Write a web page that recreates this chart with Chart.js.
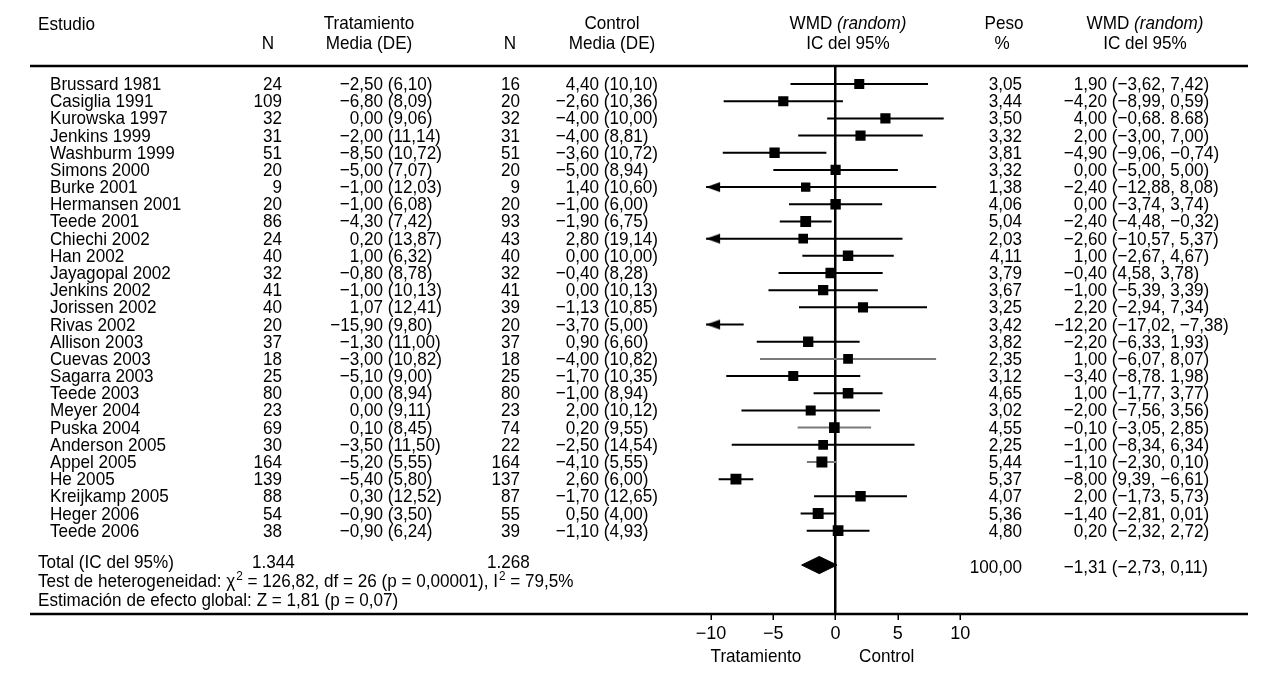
<!DOCTYPE html>
<html>
<head>
<meta charset="utf-8">
<script src="https://cdn.jsdelivr.net/npm/chart.js@4.4.1/dist/chart.umd.min.js"></script>
<style>
  html, body { margin: 0; padding: 0; background: #fff; }
  canvas { display: block; }
</style>
</head>
<body>
<canvas id="forest" width="1284" height="679"></canvas>
<script>
// --- data ---
const studies = ["Brussard 1981","Casiglia 1991","Kurowska 1997","Jenkins 1999","Washburm 1999","Simons 2000","Burke 2001","Hermansen 2001","Teede 2001","Chiechi 2002","Han 2002","Jayagopal 2002","Jenkins 2002","Jorissen 2002","Rivas 2002","Allison 2003","Cuevas 2003","Sagarra 2003","Teede 2003","Meyer 2004","Puska 2004","Anderson 2005","Appel 2005","He 2005","Kreijkamp 2005","Heger 2006","Teede 2006"];
const nTrat = [24,109,32,31,51,20,9,20,86,24,40,32,41,40,20,37,18,25,80,23,69,30,164,139,88,54,38];
const tratMean = [-2.50,-6.80,0.00,-2.00,-8.50,-5.00,-1.00,-1.00,-4.30,0.20,1.00,-0.80,-1.00,1.07,-15.90,-1.30,-3.00,-5.10,0.00,0.00,0.10,-3.50,-5.20,-5.40,0.30,-0.90,-0.90];
const tratSD = [6.10,8.09,9.06,11.14,10.72,7.07,12.03,6.08,7.42,13.87,6.32,8.78,10.13,12.41,9.80,11.00,10.82,9.00,8.94,9.11,8.45,11.50,5.55,5.80,12.52,3.50,6.24];
const nCtrl = [16,20,32,31,51,20,9,20,93,43,40,32,41,39,20,37,18,25,80,23,74,22,164,137,87,55,39];
const ctrlMean = [4.40,-2.60,-4.00,-4.00,-3.60,-5.00,1.40,-1.00,-1.90,2.80,0.00,-0.40,0.00,-1.13,-3.70,0.90,-4.00,-1.70,-1.00,2.00,0.20,-2.50,-4.10,2.60,-1.70,0.50,-1.10];
const ctrlSD = [10.10,10.36,10.00,8.81,10.72,8.94,10.60,6.00,6.75,19.14,10.00,8.28,10.13,10.85,5.00,6.60,10.82,10.35,8.94,10.12,9.55,14.54,5.55,6.00,12.65,4.00,4.93];
const peso = [3.05,3.44,3.50,3.32,3.81,3.32,1.38,4.06,5.04,2.03,4.11,3.79,3.67,3.25,3.42,3.82,2.35,3.12,4.65,3.02,4.55,2.25,5.44,5.37,4.07,5.36,4.80];
const wmd = [1.90,-4.20,4.00,2.00,-4.90,0.00,-2.40,0.00,-2.40,-2.60,1.00,-0.40,-1.00,2.20,-12.20,-2.20,1.00,-3.40,1.00,-2.00,-0.10,-1.00,-1.10,-8.00,2.00,-1.40,0.20];
const ciLo = [-3.62,-8.99,-0.68,-3.00,-9.06,-5.00,-12.88,-3.74,-4.48,-10.57,-2.67,-4.58,-5.39,-2.94,-17.02,-6.33,-6.07,-8.78,-1.77,-7.56,-3.05,-8.34,-2.30,-9.39,-1.73,-2.81,-2.32];
const ciHi = [7.42,0.59,8.68,7.00,-0.74,5.00,8.08,3.74,-0.32,5.37,4.67,3.78,3.39,7.34,-7.38,1.93,8.07,1.98,3.77,3.56,2.85,6.34,0.10,-6.61,5.73,0.01,2.72];
// CI column exactly as printed (typos included)
const ciText = ["(\u22123,62, 7,42)","(\u22128,99, 0,59)","(\u22120,68. 8.68)","(\u22123,00, 7,00)","(\u22129,06, \u22120,74)","(\u22125,00, 5,00)","(\u221212,88, 8,08)","(\u22123,74, 3,74)","(\u22124,48, \u22120,32)","(\u221210,57, 5,37)","(\u22122,67, 4,67)","(4,58, 3,78)","(\u22125,39, 3,39)","(\u22122,94, 7,34)","(\u221217,02, \u22127,38)","(\u22126,33, 1,93)","(\u22126,07, 8,07)","(\u22128,78. 1,98)","(\u22121,77, 3,77)","(\u22127,56, 3,56)","(\u22123,05, 2,85)","(\u22128,34, 6,34)","(\u22122,30, 0,10)","(9,39, \u22126,61)","(\u22121,73, 5,73)","(\u22122,81, 0,01)","(\u22122,32, 2,72)"];
const grayRows = [16, 20, 22];

const totalN = ["1.344", "1.268"];
const totalPeso = 100.00;
const totalWmd = -1.31, totalLo = -2.73, totalHi = 0.11;
const xTicks = [-10, -5, 0, 5, 10];

const FONT = '"Liberation Sans", Arial, sans-serif';
const FS = 19;        // text size
const SX = 0.9;       // squeeze text horizontally, the original type is condensed
const xClip = -10.4;  // left edge where off-scale intervals get an arrow
const totalRow = 28;

function fmt(v) {
  return (v < 0 ? '\u2212' : '') + Math.abs(v).toFixed(2).replace('.', ',');
}

// build datasets from the arrays
function ciLine(rows) {
  const pts = [];
  rows.forEach(i => {
    pts.push({x: Math.max(ciLo[i], xClip), y: i});
    pts.push({x: ciHi[i], y: i});
    pts.push({x: ciHi[i], y: null});
  });
  return pts;
}
const idx = studies.map((s, i) => i);
const blackRows = idx.filter(i => grayRows.indexOf(i) < 0);
const squareRows = idx.filter(i => wmd[i] >= xClip);
const arrowRows = idx.filter(i => ciLo[i] < xClip);

const arrowHead = document.createElement('canvas');
arrowHead.width = 30; arrowHead.height = 12;
(function () {
  const a = arrowHead.getContext('2d');
  a.fillStyle = '#000';
  a.beginPath(); a.moveTo(15, 6); a.lineTo(29, 1); a.lineTo(29, 11); a.closePath(); a.fill();
})();

// table text + rules
const tablePlugin = {
  id: 'tableText',
  afterDraw(chart) {
    const ctx = chart.ctx;
    const ys = chart.scales.y;
    function txt(s, x, y, align, italic, size) {
      ctx.save();
      ctx.font = (italic ? 'italic ' : '') + (size || FS) + 'px ' + FONT;
      ctx.fillStyle = '#000';
      ctx.textAlign = align || 'left';
      ctx.textBaseline = 'alphabetic';
      ctx.translate(x, y); ctx.scale(SX, 1);
      ctx.fillText(s, 0, 0);
      ctx.restore();
    }
    function w(s, italic, size) {
      ctx.save();
      ctx.font = (italic ? 'italic ' : '') + (size || FS) + 'px ' + FONT;
      const m = ctx.measureText(s).width * SX;
      ctx.restore();
      return m;
    }
    function mixed(parts, x, y, center) {
      let total = 0;
      parts.forEach(p => total += w(p[0], p[1]));
      let cx = center ? x - total / 2 : x;
      parts.forEach(p => { txt(p[0], cx, y, 'left', p[1]); cx += w(p[0], p[1]); });
    }

    // rules
    ctx.save();
    ctx.strokeStyle = '#000'; ctx.lineWidth = 2.5;
    ctx.beginPath();
    ctx.moveTo(30, chart.chartArea.top); ctx.lineTo(1248, chart.chartArea.top);
    ctx.moveTo(30, chart.chartArea.bottom); ctx.lineTo(1248, chart.chartArea.bottom);
    ctx.stroke();
    ctx.restore();

    // headers
    txt('Estudio', 38, 30);
    txt('N', 268, 49, 'center');
    txt('Tratamiento', 369, 29, 'center');
    txt('Media (DE)', 369, 49, 'center');
    txt('N', 510, 49, 'center');
    txt('Control', 612, 29, 'center');
    txt('Media (DE)', 612, 49, 'center');
    mixed([['WMD ', false], ['(random)', true]], 848, 29, true);
    txt('IC del 95%', 848, 49, 'center');
    txt('Peso', 1004, 29, 'center');
    txt('%', 1002, 49, 'center');
    mixed([['WMD ', false], ['(random)', true]], 1145, 29, true);
    txt('IC del 95%', 1145, 49, 'center');

    // rows
    studies.forEach((s, i) => {
      const y = ys.getPixelForValue(i) + 6;
      txt(s, 50, y);
      txt(String(nTrat[i]), 282, y, 'right');
      txt(fmt(tratMean[i]), 383, y, 'right');
      txt(' (' + tratSD[i].toFixed(2).replace('.', ',') + ')', 383, y);
      txt(String(nCtrl[i]), 520, y, 'right');
      txt(fmt(ctrlMean[i]), 599, y, 'right');
      txt(' (' + ctrlSD[i].toFixed(2).replace('.', ',') + ')', 599, y);
      txt(peso[i].toFixed(2).replace('.', ','), 1022, y, 'right');
      txt(fmt(wmd[i]), 1107, y, 'right');
      txt(' ' + ciText[i], 1107, y);
    });

    // totals
    const ty = ys.getPixelForValue(totalRow);
    txt('Total (IC del 95%)', 38, ty + 3);
    txt(totalN[0], 252, ty + 3);
    txt(totalN[1], 487, ty + 3);
    txt(totalPeso.toFixed(2).replace('.', ','), 1022, ty + 8, 'right');
    txt(fmt(totalWmd), 1107, ty + 8, 'right');
    txt(' (' + fmt(totalLo) + ', ' + fmt(totalHi) + ')', 1107, ty + 8);

    // heterogeneity line with superscripts
    let x = 38; const hy = ty + 22;
    [['Test de heterogeneidad: \u03c7', 0], ['2', 1], [' = 126,82, df = 26 (p = 0,00001), I', 0], ['2', 1], [' = 79,5%', 0]].forEach(p => {
      if (p[1]) { txt(p[0], x + 1, hy - 7, 'left', false, 13); x += w(p[0], false, 13) + 1; }
      else { txt(p[0], x, hy); x += w(p[0]); }
    });
    txt('Estimaci\u00f3n de efecto global: Z = 1,81 (p = 0,07)', 38, ty + 41);

    // axis captions
    const xs = chart.scales.x;
    txt('Tratamiento', xs.getPixelForValue(-6.4), 662, 'center');
    txt('Control', xs.getPixelForValue(4.1), 662, 'center');
  }
};

new Chart(document.getElementById('forest'), {
  type: 'scatter',
  data: {
    datasets: [
      { // study estimates
        data: squareRows.map(i => ({x: wmd[i], y: i})),
        pointStyle: 'rect',
        pointRadius: squareRows.map(i => (8.8 + 0.4 * peso[i]) / Math.SQRT2),
        backgroundColor: '#000', pointBorderWidth: 0, showLine: false
      },
      { // off-scale arrows
        data: arrowRows.map(i => ({x: xClip, y: i})),
        pointStyle: arrowHead, pointRadius: 7, showLine: false
      },
      { // confidence intervals (black)
        type: 'line', data: ciLine(blackRows),
        borderColor: '#000', borderWidth: 2, pointRadius: 0, spanGaps: false, fill: false
      },
      { // confidence intervals (gray)
        type: 'line', data: ciLine(grayRows),
        borderColor: '#7a7a7a', borderWidth: 2, pointRadius: 0, spanGaps: false, fill: false
      },
      { // pooled diamond, upper half
        type: 'line',
        data: [{x: totalLo, y: totalRow}, {x: totalWmd, y: totalRow - 0.5}, {x: totalHi, y: totalRow}],
        borderColor: '#000', borderWidth: 1, pointRadius: 0, fill: false
      },
      { // pooled diamond, lower half
        type: 'line',
        data: [{x: totalLo, y: totalRow}, {x: totalWmd, y: totalRow + 0.5}, {x: totalHi, y: totalRow}],
        borderColor: '#000', borderWidth: 1, pointRadius: 0, fill: '-1', backgroundColor: '#000'
      }
    ]
  },
  options: {
    responsive: false,
    animation: false,
    devicePixelRatio: 1,
    layout: { padding: { left: 698.6, right: 311.4, top: 66, bottom: 25 } },
    plugins: { legend: { display: false }, tooltip: { enabled: false } },
    scales: {
      x: {
        type: 'linear', min: -11, max: 11,
        afterBuildTicks: s => { s.ticks = xTicks.map(v => ({value: v})); },
        afterFit: s => { s.height = 40; },
        border: { display: false },
        grid: {
          color: c => (c.tick && c.tick.value === 0) ? '#000' : 'rgba(0,0,0,0)',
          lineWidth: 2.5, drawTicks: true, tickLength: 6, tickColor: '#000', tickWidth: 1.5
        },
        ticks: {
          color: '#000', padding: 3, maxRotation: 0,
          font: { family: FONT, size: 18 },
          callback: v => (v < 0 ? '\u2212' + Math.abs(v) : String(v))
        }
      },
      y: { type: 'linear', display: false, reverse: true, min: -1.05, max: 30.85 }
    }
  },
  plugins: [tablePlugin]
});
</script>
</body>
</html>
